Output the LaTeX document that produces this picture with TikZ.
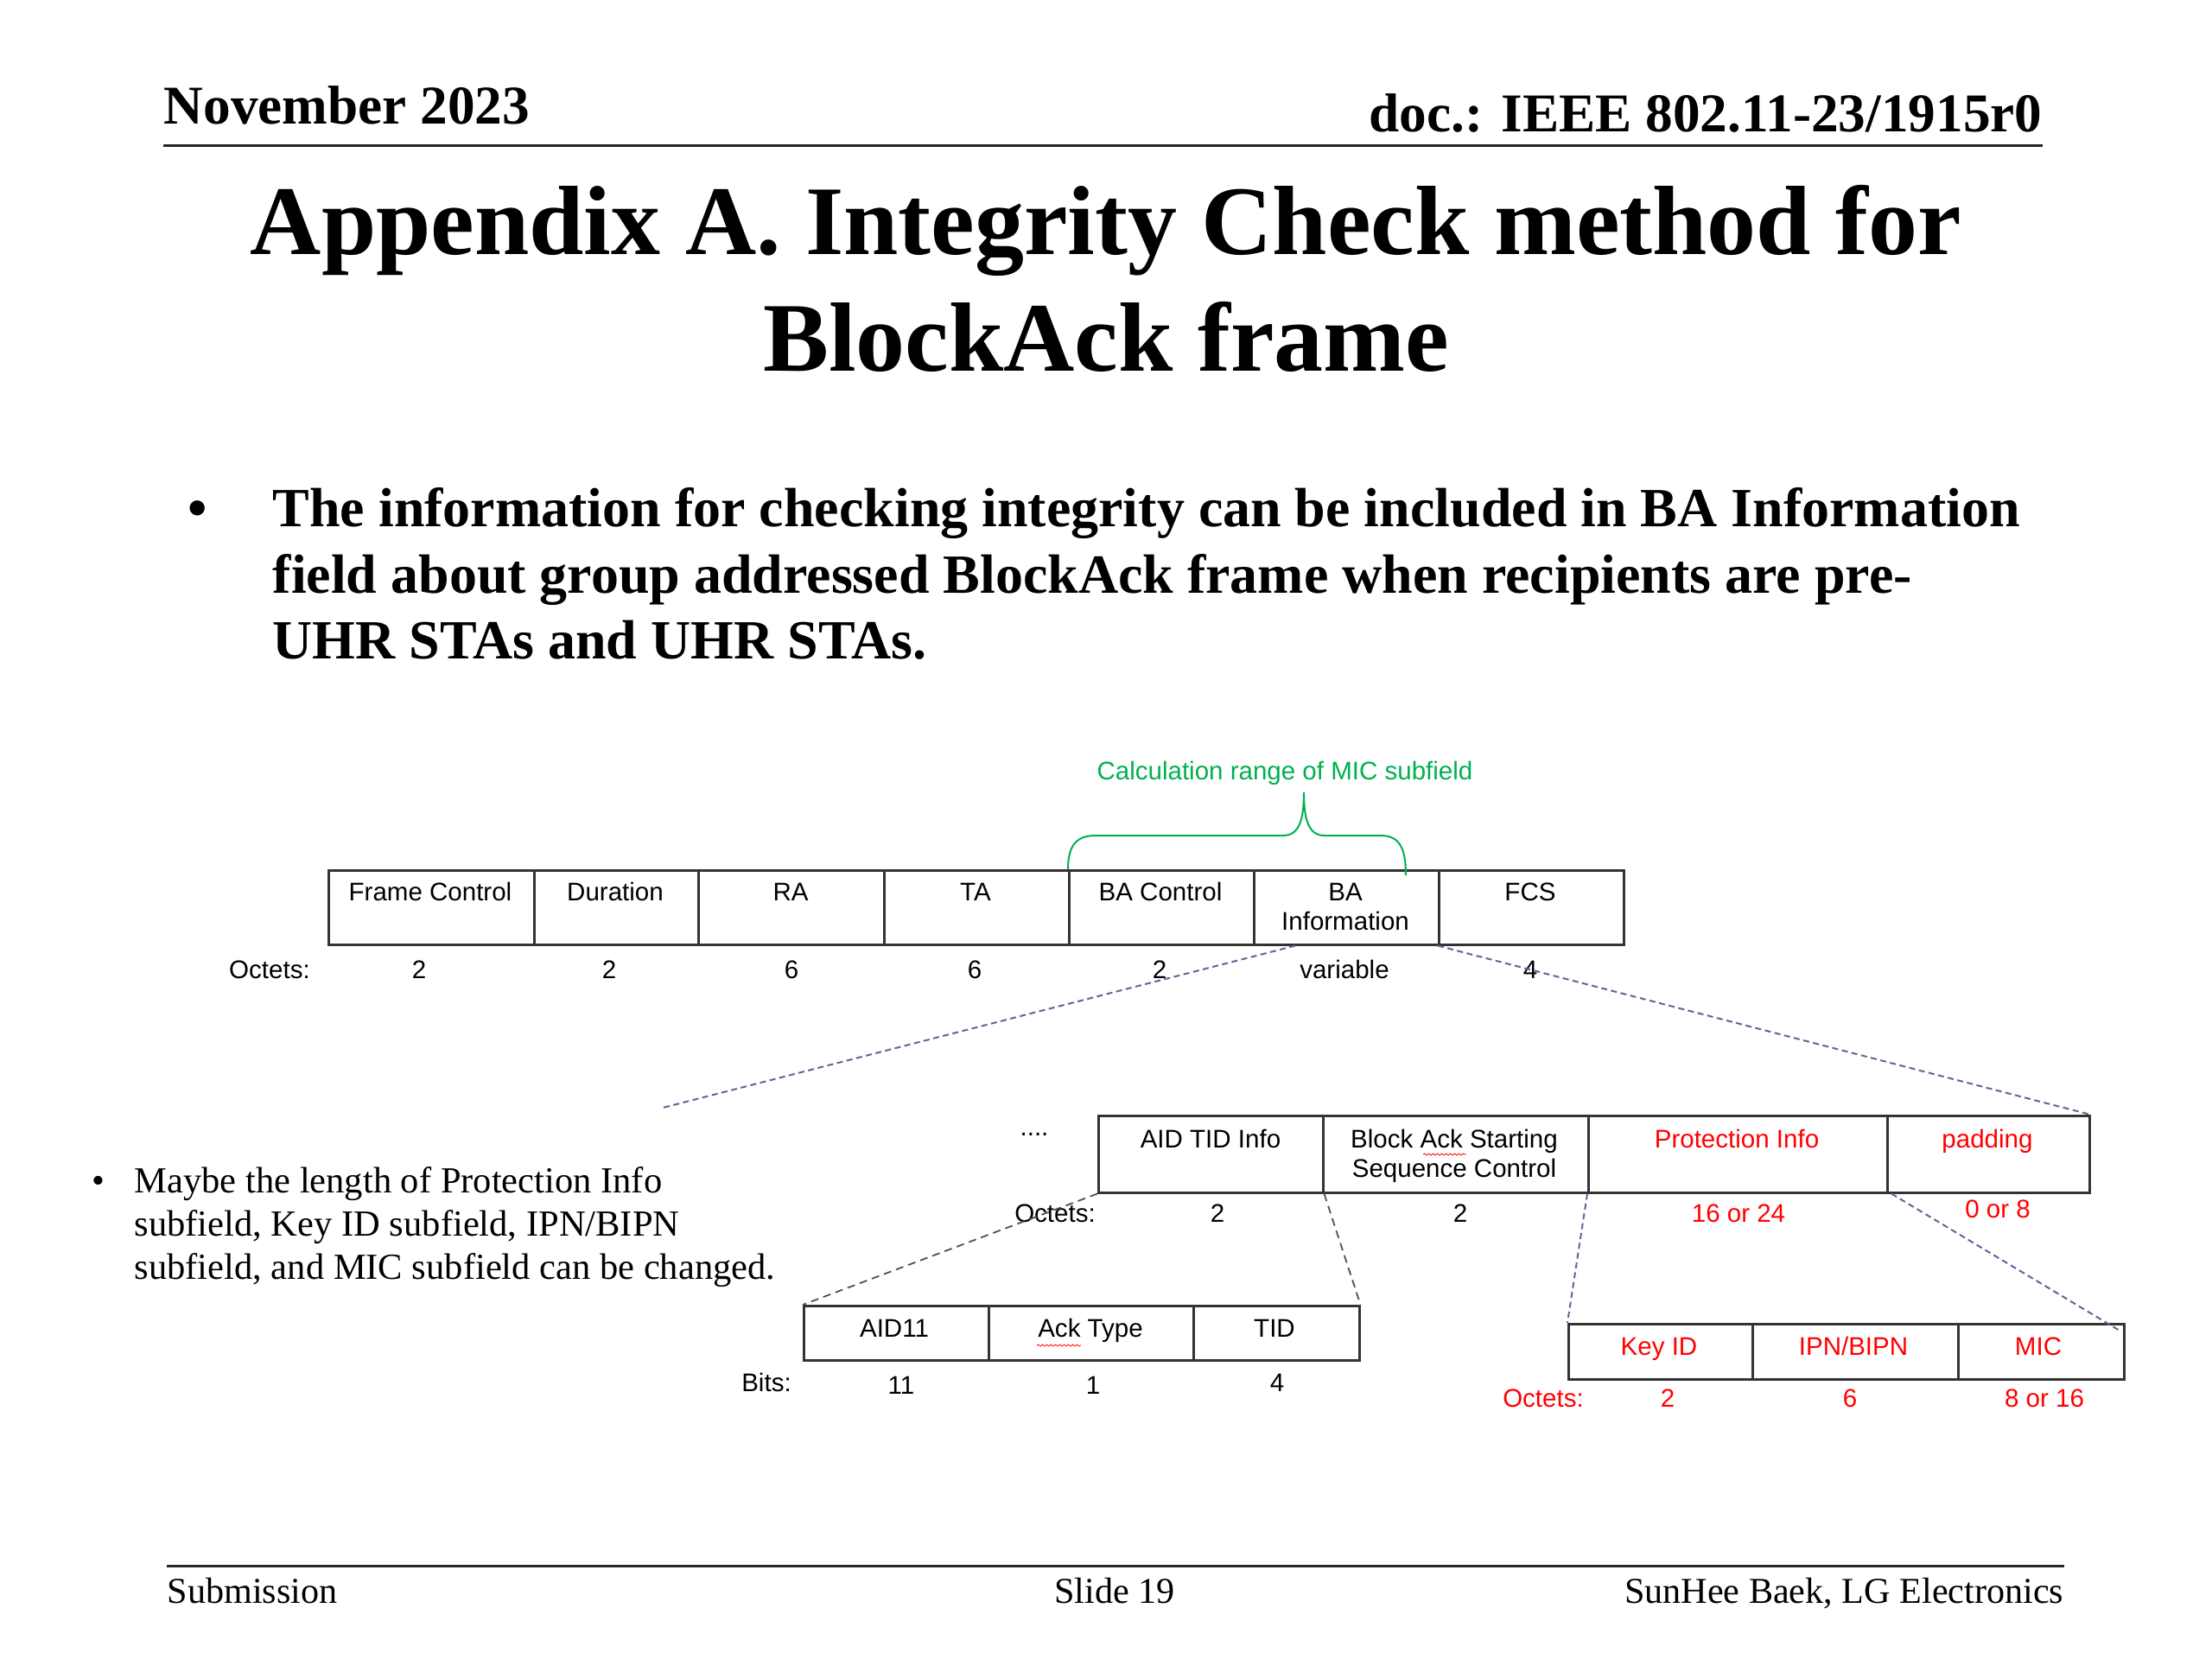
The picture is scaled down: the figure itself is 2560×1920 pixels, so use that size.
\documentclass[tikz,border=0pt]{standalone}
\usepackage{fontspec}
\setmainfont{Liberation Serif}
\newfontfamily\arialf{Liberation Sans}
\usetikzlibrary{decorations.pathmorphing}
\definecolor{mygreen}{HTML}{00B050}
\definecolor{myred}{HTML}{FF0000}
\definecolor{dashblue}{HTML}{5A6896}
\definecolor{dashgray}{HTML}{505050}
\begin{document}
\begin{tikzpicture}[x=0.1mm,y=-0.1mm,
  cell/.style={draw=black!80, line width=0.25mm, inner sep=0pt, anchor=north west},
  lbl/.style={font=\arialf\fontsize{8.4}{10}\selectfont, anchor=base, inner sep=0pt},
  rlbl/.style={lbl, text=myred},
  dashb/.style={draw=dashblue, line width=0.2mm, dash pattern=on 0.7mm off 0.45mm},
  dashg/.style={draw=dashgray, line width=0.18mm, dash pattern=on 0.9mm off 0.6mm},
  squig/.style={draw=myred, line width=0.08mm, decorate, decoration={snake, amplitude=0.1mm, segment length=0.5mm}},
  hdr/.style={font=\bfseries\fontsize{18}{21.6}\selectfont, inner sep=0pt},
  ttl/.style={font=\bfseries\fontsize{32.4}{38.8}\selectfont, inner sep=0pt, anchor=base},
  bul/.style={font=\bfseries\fontsize{18.2}{21.8}\selectfont, inner sep=0pt, anchor=base west},
  sbul/.style={font=\fontsize{12.1}{14.5}\selectfont, inner sep=0pt, anchor=base west},
  ftr/.style={font=\fontsize{12}{14.4}\selectfont, inner sep=0pt}
]
\useasboundingbox (0,0) rectangle (2560,1920);

% header
\node[hdr, anchor=base west] (month) at (189,143) {November 2023};
\node[hdr, anchor=base east] (docid) at (2364,152) {doc.: IEEE 802.11-23/1915r0};
\draw[line width=0.3mm, black!85] (189,168) -- (2364,168);

% title
\node[ttl] (title1) at (1280,294) {Appendix A. Integrity Check method for};
\node[ttl] (title2) at (1280,429) {BlockAck frame};

% main bullet
\node[bul, anchor=base] (bdot) at (229,609) {•};
\node[bul] (bl1) at (315,609) {The information for checking integrity can be included in BA Information};
\node[bul] (bl2) at (315,686) {field about group addressed BlockAck frame when recipients are pre-};
\node[bul] (bl3) at (315,762) {UHR STAs and UHR STAs.};

% side bullet
\node[sbul, anchor=base] (sdot) at (114,1380) {•};
\node[sbul] (sl1) at (155,1380) {Maybe the length of Protection Info};
\node[sbul] (sl2) at (155,1430) {subfield, Key ID subfield, IPN/BIPN};
\node[sbul] (sl3) at (155,1480) {subfield, and MIC subfield can be changed.};

% top frame row
\node[cell, minimum width=23.8mm, minimum height=8.6mm] (fc) at (379,1006) {};
\node[cell, minimum width=19.0mm, minimum height=8.6mm] (dur) at (617,1006) {};
\node[cell, minimum width=21.5mm, minimum height=8.6mm] (ra) at (807,1006) {};
\node[cell, minimum width=21.4mm, minimum height=8.6mm] (ta) at (1022,1006) {};
\node[cell, minimum width=21.4mm, minimum height=8.6mm] (bac) at (1236,1006) {};
\node[cell, minimum width=21.4mm, minimum height=8.6mm] (bai) at (1450,1006) {};
\node[cell, minimum width=21.4mm, minimum height=8.6mm] (fcs) at (1664,1006) {};

\node[lbl] (fcT) at (498,1042) {Frame Control};
\node[lbl] (durT) at (712,1042) {Duration};
\node[lbl] (raT) at (915,1042) {RA};
\node[lbl] (taT) at (1129,1042) {TA};
\node[lbl] (bacT) at (1343,1042) {BA Control};
\node[lbl] (baiT1) at (1557,1042) {BA};
\node[lbl] (baiT2) at (1557,1076) {Information};
\node[lbl] (fcsT) at (1771,1042) {FCS};

\node[lbl] (octA) at (312,1132) {Octets:};
\node[lbl] (oA1) at (485,1132) {2};
\node[lbl] (oA2) at (705,1132) {2};
\node[lbl] (oA3) at (916,1132) {6};
\node[lbl] (oA4) at (1128,1132) {6};
\node[lbl] (oA5) at (1342,1132) {2};
\node[lbl] (oA6) at (1556,1132) {variable};
\node[lbl] (oA7) at (1771,1132) {4};

% green brace
\node[lbl, text=mygreen] (calc) at (1487,902) {Calculation range of MIC subfield};
\draw[mygreen, line width=0.2mm] (bac.north west) .. controls (1236,978) and (1246,967) .. (1268,967)
  -- (1485,967) .. controls (1503,967) and (1509,950) .. (1509,917)
  .. controls (1509,950) and (1515,967) .. (1533,967) -- (1598,967)
  .. controls (1620,967) and (1627,982) .. (1627,1013);

% second row
\node[cell, minimum width=26.0mm, minimum height=8.9mm] (aid) at (1270,1290) {};
\node[cell, minimum width=30.7mm, minimum height=8.9mm] (bss) at (1530,1290) {};
\node[cell, minimum width=34.6mm, minimum height=8.9mm] (prot) at (1837,1290) {};
\node[cell, minimum width=23.4mm, minimum height=8.9mm] (pad) at (2183,1290) {};

\node[lbl] (dots) at (1197,1314) {....};
\node[lbl] (aidT) at (1401,1328) {AID TID Info};
\node[lbl] (bssT1) at (1683,1328) {Block Ack Starting};
\node[lbl] (bssT2) at (1683,1362) {Sequence Control};
\node[rlbl] (protT) at (2010,1328) {Protection Info};
\node[rlbl] (padT) at (2300,1328) {padding};

\node[lbl] (octB) at (1221,1414) {Octets:};
\node[lbl] (oB1) at (1409,1414) {2};
\node[lbl] (oB2) at (1690,1414) {2};
\node[rlbl] (oB3) at (2012,1414) {16 or 24};
\node[rlbl] (oB4) at (2312,1409) {0 or 8};

% third row left
\node[cell, minimum width=21.4mm, minimum height=6.3mm] (aid11) at (929,1510) {};
\node[cell, minimum width=23.7mm, minimum height=6.3mm] (ack) at (1143,1510) {};
\node[cell, minimum width=19.2mm, minimum height=6.3mm] (tid) at (1380,1510) {};

\node[lbl] (aid11T) at (1035,1547) {AID11};
\node[lbl] (ackT) at (1262,1547) {Ack Type};
\node[lbl] (tidT) at (1475,1547) {TID};

\node[lbl] (bits) at (887,1610) {Bits:};
\node[lbl] (bC1) at (1043,1613) {11};
\node[lbl] (bC2) at (1265,1613) {1};
\node[lbl] (bC3) at (1478,1610) {4};

% third row right
\node[cell, minimum width=21.3mm, minimum height=6.4mm] (key) at (1814,1531) {};
\node[cell, minimum width=23.8mm, minimum height=6.4mm] (ipn) at (2027,1531) {};
\node[cell, minimum width=19.2mm, minimum height=6.4mm] (mic) at (2265,1531) {};

\node[rlbl] (keyT) at (1920,1568) {Key ID};
\node[rlbl] (ipnT) at (2145,1568) {IPN/BIPN};
\node[rlbl] (micT) at (2359,1568) {MIC};

\node[rlbl] (octD) at (1786,1628) {Octets:};
\node[rlbl] (oD1) at (1930,1628) {2};
\node[rlbl] (oD2) at (2141,1628) {6};
\node[rlbl] (oD3) at (2366,1628) {8 or 16};

% spell-check squiggles
\draw[squig] (1647,1336) -- (1697,1336);
\draw[squig] (1200,1557) -- (1251,1557);

% dashed connectors
\coordinate (bfree) at (767,1282);
\draw[dashb] ([xshift=4.9mm]bai.south west) -- (bfree);
\draw[dashb] (fcs.south west) -- (pad.north east);
\draw[dashg] (aid.south west) -- (aid11.north west);
\draw[dashg] (aid.south east) -- (tid.north east);
\draw[dashb] (prot.south west) -- (key.north west);
\draw[dashb] ([xshift=0.6mm]pad.south west) -- ([xshift=-0.8mm,yshift=-0.8mm]mic.north east);

% footer
\draw[line width=0.3mm, black!85] (193,1812) -- (2389,1812);
\node[ftr, anchor=base west] (sub) at (193,1855) {Submission};
\node[ftr, anchor=base] (slide) at (1290,1855) {Slide 19};
\node[ftr, anchor=base east] (auth) at (2389,1855) {SunHee Baek, LG Electronics};
\end{tikzpicture}
\end{document}
